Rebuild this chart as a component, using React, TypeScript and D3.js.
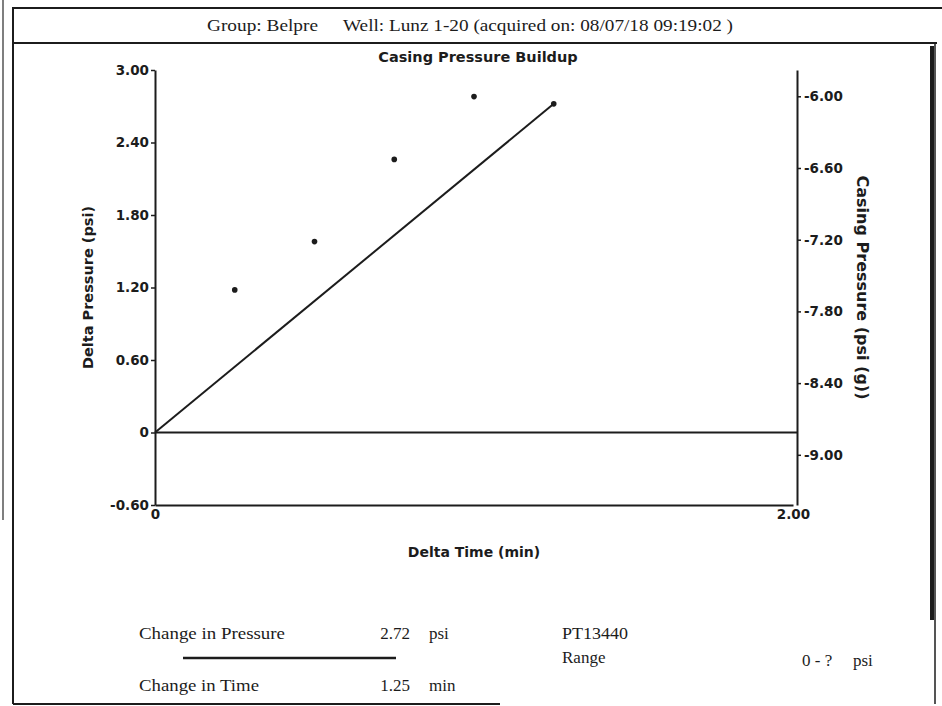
import React, { useEffect, useRef } from 'react';
import * as d3 from 'd3';

// buildup readings (min, psi)
const times = [0.25, 0.5, 0.75, 1.0, 1.25];
const deltaP = [1.18, 1.58, 2.26, 2.78, 2.72];
const fitTimes = [0, 1.25];
const fitDeltaP = [0, 2.72];
const leftTicks = [3.0, 2.4, 1.8, 1.2, 0.6, 0, -0.6];
const rightTicks = [-6.0, -6.6, -7.2, -7.8, -8.4, -9.0];
const xTicks = [0, 2.0];

const W = 942;
const H = 706;
const ink = '#1c1c1c';
const sans = '"DejaVu Sans", Arial, sans-serif';
const serif = '"Liberation Serif", "Times New Roman", serif';

const fmt = (d: number) => (d === 0 ? '0' : d3.format('.2f')(d).replace('\u2212', '-'));

const App: React.FC = () => {
  const ref = useRef<SVGSVGElement | null>(null);

  useEffect(() => {
    const margin = { top: 70, left: 155, right: 145, bottom: 201 };
    const width = W - margin.left - margin.right;
    const height = H - margin.top - margin.bottom;

    const svg = d3.select(ref.current);
    svg.selectAll('*').remove();

    // page frame (scanned sheet)
    const frame = svg.append('g').attr('stroke', ink).attr('fill', 'none');
    frame.append('line').attr('x1', 3).attr('x2', 3).attr('y1', 0).attr('y2', 520).attr('stroke-width', 1.5).attr('stroke', '#555');
    frame.append('line').attr('x1', 13).attr('x2', 13).attr('y1', 7).attr('y2', 704).attr('stroke-width', 2);
    frame.append('line').attr('x1', 13).attr('x2', W).attr('y1', 8).attr('y2', 8).attr('stroke-width', 2);
    frame.append('line').attr('x1', 13).attr('x2', 937).attr('y1', 43).attr('y2', 43).attr('stroke-width', 2);
    frame.append('line').attr('x1', 935).attr('x2', 935).attr('y1', 43).attr('y2', 704).attr('stroke-width', 1.5);
    frame.append('line').attr('x1', 932).attr('x2', 932).attr('y1', 46).attr('y2', 620).attr('stroke-width', 4);
    frame.append('line').attr('x1', 13).attr('x2', 500).attr('y1', 704).attr('y2', 704).attr('stroke-width', 2);

    const header = svg.append('g').attr('font-family', serif).attr('font-size', 16).attr('fill', ink);
    header.append('text').attr('x', 207).attr('y', 31)
      .attr('textLength', 111).attr('lengthAdjust', 'spacingAndGlyphs').text('Group: Belpre');
    header.append('text').attr('x', 343).attr('y', 31)
      .attr('textLength', 390).attr('lengthAdjust', 'spacingAndGlyphs')
      .text('Well: Lunz 1-20 (acquired on: 08/07/18 09:19:02 )');

    const g = svg.append('g').attr('transform', `translate(${margin.left},${margin.top})`);

    const x = d3.scaleLinear().domain([0, 2.0]).range([0, width - 4]);
    const y = d3.scaleLinear().domain([-0.6, 3.0]).range([height, 0]);
    const yRight = d3.scaleLinear().domain([-9.42, -5.78]).range([height, 0]);

    g.append('text')
      .attr('x', 323).attr('y', -8)
      .attr('text-anchor', 'middle')
      .attr('font-family', sans).attr('font-weight', 'bold').attr('font-size', 14.5)
      .attr('fill', ink)
      .text('Casing Pressure Buildup');

    // left axis
    const left = g.append('g').call(d3.axisLeft(y).tickValues(leftTicks).tickSize(4).tickSizeOuter(0).tickPadding(2)
      .tickFormat((d) => fmt(d as number)));
    // bottom axis
    const bottom = g.append('g').attr('transform', `translate(0,${height})`)
      .call(d3.axisBottom(x).tickValues(xTicks).tickSize(0).tickPadding(4)
        .tickFormat((d) => fmt(d as number)));
    // right axis
    const right = g.append('g').attr('transform', `translate(${width},0)`)
      .call(d3.axisRight(yRight).tickValues(rightTicks).tickSize(4).tickSizeOuter(0).tickPadding(3)
        .tickFormat((d) => fmt(d as number)));

    [left, bottom, right].forEach((a) => {
      a.select('.domain').attr('stroke', ink).attr('stroke-width', 2);
      a.selectAll('line').attr('stroke', ink).attr('stroke-width', 1.5);
      a.selectAll('text').attr('font-family', sans).attr('font-weight', 'bold').attr('font-size', 13.5).attr('fill', ink);
    });

    // zero line
    g.append('line')
      .attr('x1', 0).attr('x2', width)
      .attr('y1', y(0)).attr('y2', y(0))
      .attr('stroke', ink).attr('stroke-width', 2);

    g.append('text')
      .attr('transform', `translate(-62,${y(1.2)}) rotate(-90)`)
      .attr('text-anchor', 'middle')
      .attr('font-family', sans).attr('font-weight', 'bold').attr('font-size', 14.5).attr('fill', ink)
      .text('Delta Pressure (psi)');

    g.append('text')
      .attr('transform', `translate(${width + 60},${yRight(-7.6)}) rotate(90)`)
      .attr('text-anchor', 'middle')
      .attr('font-family', sans).attr('font-weight', 'bold').attr('font-size', 16).attr('fill', ink)
      .text('Casing Pressure (psi (g))');

    g.append('text')
      .attr('x', x(1.0)).attr('y', height + 52)
      .attr('text-anchor', 'middle')
      .attr('font-family', sans).attr('font-weight', 'bold').attr('font-size', 14).attr('fill', ink)
      .text('Delta Time (min)');

    const line = d3.line<number>()
      .x((d, i) => x(fitTimes[i]))
      .y((d) => y(d));

    g.append('path')
      .datum(fitDeltaP)
      .attr('d', line)
      .attr('fill', 'none')
      .attr('stroke', ink)
      .attr('stroke-width', 2);

    g.selectAll('.pt')
      .data(deltaP)
      .enter()
      .append('circle')
      .attr('class', 'pt')
      .attr('cx', (d, i) => x(times[i]))
      .attr('cy', (d) => y(d))
      .attr('r', 2.8)
      .attr('fill', ink);

    // summary block
    const summary = svg.append('g').attr('font-family', serif).attr('font-size', 17).attr('fill', ink);
    summary.append('text').attr('x', 139).attr('y', 639)
      .attr('textLength', 146).attr('lengthAdjust', 'spacingAndGlyphs').text('Change in Pressure');
    summary.append('text').attr('x', 410).attr('y', 639).attr('text-anchor', 'end').text('2.72');
    summary.append('text').attr('x', 429).attr('y', 639).text('psi');
    summary.append('line').attr('x1', 183).attr('x2', 396).attr('y1', 658).attr('y2', 658).attr('stroke', ink).attr('stroke-width', 2.5);
    summary.append('text').attr('x', 139).attr('y', 691)
      .attr('textLength', 120).attr('lengthAdjust', 'spacingAndGlyphs').text('Change in Time');
    summary.append('text').attr('x', 410).attr('y', 691).attr('text-anchor', 'end').text('1.25');
    summary.append('text').attr('x', 429).attr('y', 691).text('min');
    summary.append('text').attr('x', 562).attr('y', 639)
      .attr('textLength', 66).attr('lengthAdjust', 'spacingAndGlyphs').text('PT13440');
    summary.append('text').attr('x', 562).attr('y', 663).text('Range');
    summary.append('text').attr('x', 802).attr('y', 666).text('0 - ?');
    summary.append('text').attr('x', 853).attr('y', 666).text('psi');
  }, []);

  return (
    <svg
      ref={ref}
      width={W}
      height={H}
      style={{ position: 'absolute', left: 0, top: 0, background: '#fff' }}
    />
  );
};

export default App;
